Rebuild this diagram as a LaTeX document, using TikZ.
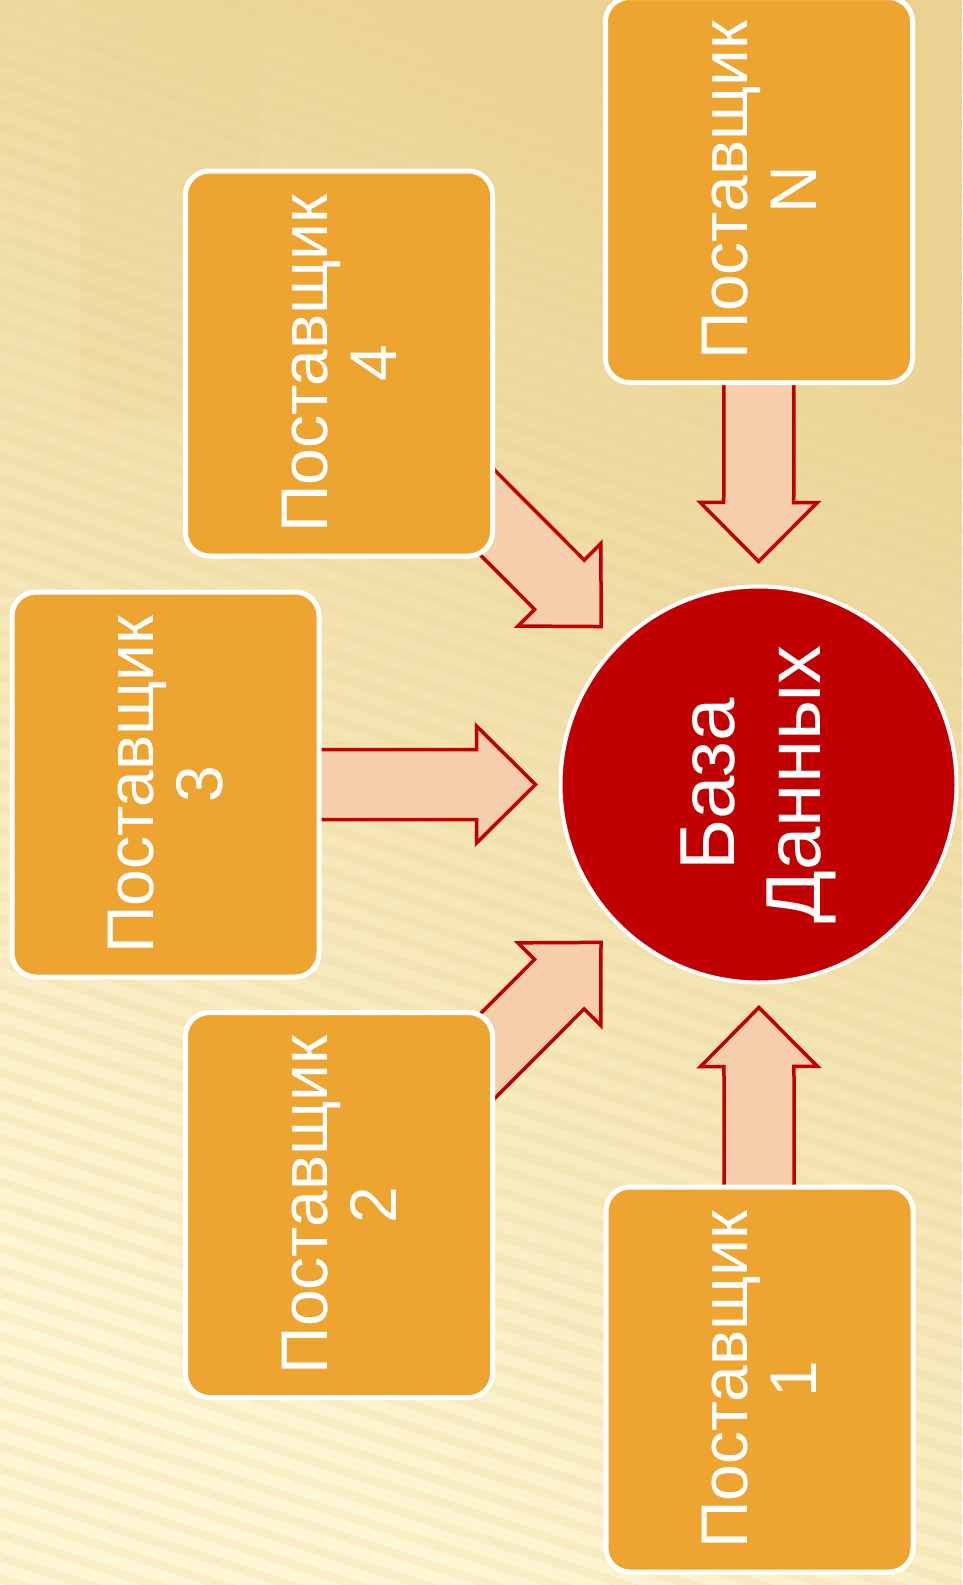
\documentclass[tikz,border=0pt]{standalone}
\usepackage{fontspec}
\setmainfont{Liberation Sans}
\usetikzlibrary{calc,backgrounds}
\pgfdeclarelayer{wood}
\pgfsetlayers{wood,background,main}

\definecolor{boxorange}{RGB}{238,164,49}
\definecolor{dbred}{RGB}{192,0,0}
\definecolor{arrowpeach}{RGB}{246,206,172}
\definecolor{woodlight}{RGB}{254,246,212}
\definecolor{wooddark}{RGB}{234,210,146}

\tikzset{
  supplier/.style={draw=white, line width=5pt, fill=boxorange, rounded corners=24pt,
    rotate=90, minimum width=385pt, minimum height=307pt, inner sep=0pt,
    text=white, align=center, font=\fontsize{66}{69}\selectfont},
  database/.style={circle, draw=white, line width=4pt, fill=dbred, minimum size=396pt,
    inner sep=0pt, rotate=90, text=white, align=center, font=\fontsize{78}{86}\selectfont},
  feedarrow/.style={draw=dbred, line width=3.5pt, fill=arrowpeach, line join=miter},
  stripe/.style={wooddark, line width=9pt, opacity=0.22}
}

% block arrow from a supplier box to the data base
\newcommand\supplyarrow[1]{%
  \path ($(db)!223pt!(#1)$) coordinate (tip)
        ($(tip)!59pt!(#1)$) coordinate (neck);
  \draw [feedarrow] (tip) -- ($(neck)!58.5pt!90:(tip)$) -- ($(neck)!35pt!90:(tip)$)
        -- ($(#1)!35pt!90:(tip)$) -- ($(#1)!35pt!-90:(tip)$)
        -- ($(neck)!35pt!-90:(tip)$) -- ($(neck)!58.5pt!-90:(tip)$) -- cycle;
}

\begin{document}
\begin{tikzpicture}[x=1pt, y=-1pt]
\useasboundingbox (0,0) rectangle (962,1585);

% supplier boxes
\node [supplier] (sN) at (759,190) {Поставщик\\N};
\node [supplier] (s4) at (339,363.5) {Поставщик\\4};
\node [supplier] (s3) at (165.5,784.5) {Поставщик\\3};
\node [supplier] (s2) at (339,1205) {Поставщик\\2};
\node [supplier] (s1) at (759.5,1379.5) {Поставщик\\1};

% data base
\node [database] (db) at (758.5,784.5) {База\\Данных};

% arrows, behind the boxes
\begin{scope}[on background layer]
\supplyarrow{sN}
\supplyarrow{s4}
\supplyarrow{s3}
\supplyarrow{s2}
\supplyarrow{s1}
\end{scope}

% wooden background with stripes
\begin{pgfonlayer}{wood}
\shade [top color=wooddark, bottom color=woodlight, shading angle=-35] (0,0) rectangle (962,1585);
\fill [wooddark, opacity=0.2] (80,0) rectangle (260,420);
\foreach \k in {-18,...,74}
  \draw [stripe] (-50,\k*22) -- (1050,\k*22+360);
\end{pgfonlayer}

\end{tikzpicture}
\end{document}
